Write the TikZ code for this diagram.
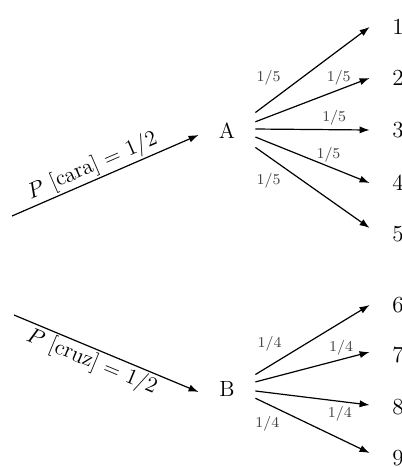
\documentclass[tikz,border=0pt]{standalone}
\usetikzlibrary{arrows.meta}

\begin{document}
\begin{tikzpicture}[x=0.5pt, y=-0.5pt,
  arr/.style={line width=0.6pt, -{Latex[length=5pt, width=3.6pt]}},
  split/.style={minimum width=28pt, minimum height=20pt, inner sep=0pt, font=\fontsize{11}{13}\selectfont},
  leaf/.style={minimum width=28pt, minimum height=10pt, inner sep=0pt, font=\fontsize{11.5}{13}\selectfont},
  frac/.style={font=\fontsize{7.5}{9}\selectfont, text=black!75, inner sep=2pt},
  prob/.style={font=\fontsize{11}{13}\selectfont, sloped, inner sep=1pt}]

  \useasboundingbox (0,0) rectangle (402,467);

  % --- Coin ---
  \coordinate (cara0) at (12,216);
  \coordinate (cruz0) at (14,315);
  \node[split] (A) at (227,131) {A};
  \node[split] (B) at (227,389) {B};

  \draw[arr] (cara0) -- node[prob, pos=0.46, above] {$P$ [cara] = 1/2} (A.188);
  \draw[arr] (cruz0) -- node[prob, pos=0.45, below] {$P$ [cruz] = 1/2} (B.186);

  % --- Outcomes ---
  \foreach \i/\y in {1/27,2/78,3/130,4/183,5/234,6/305,7/355,8/407,9/458}
    \node[leaf] (n\i) at (398,\y) {\i};

  % --- Branches of A ---
  \foreach \i/\s/\e/\p/\side in {1/33/180/0.26/above left, 2/18/180/0.73/above,
                                 3/4/180/0.69/above, 4/348/180/0.64/above,
                                 5/330/168/0.26/below left}
    \draw[arr] (A.\s) -- node[frac, pos=\p, \side] {1/5} (n\i.\e);

  % --- Branches of B ---
  \foreach \i/\s/\e/\p/\side in {6/27/180/0.27/above left, 7/14/174/0.75/above,
                                 8/356/176/0.74/below, 9/342/170/0.25/below left}
    \draw[arr] (B.\s) -- node[frac, pos=\p, \side] {1/4} (n\i.\e);

\end{tikzpicture}
\end{document}
